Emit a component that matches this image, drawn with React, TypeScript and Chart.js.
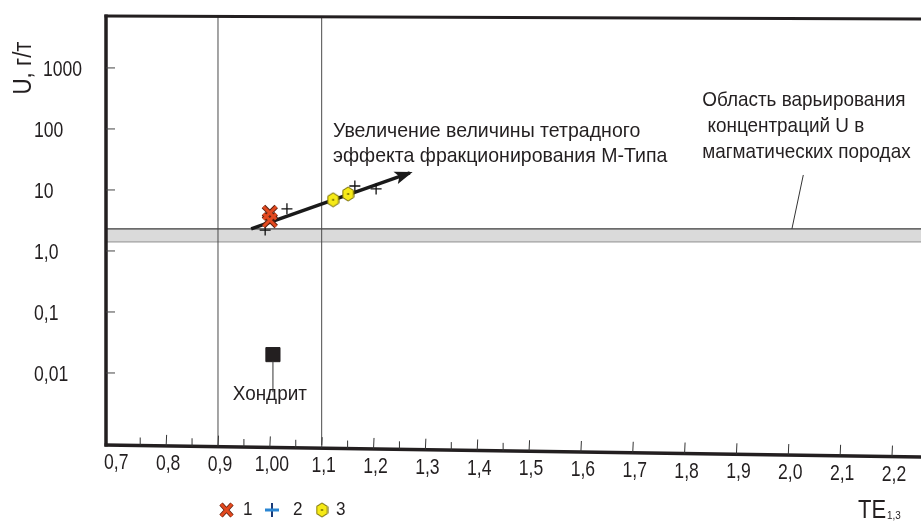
import React, { useEffect, useRef } from "react";
import { Chart, registerables } from "chart.js";

Chart.register(...registerables);

// ---- axis ranges ----
const X_MIN = 0.684;
const X_MAX = 2.256;
const Y_MIN = 0.00066;
const Y_MAX = 7100;

// ---- tick values / labels ----
const xTickValues = [0.7, 0.8, 0.9, 1.0, 1.1, 1.2, 1.3, 1.4, 1.5, 1.6, 1.7, 1.8, 1.9, 2.0, 2.1, 2.2];
const xTickLabels = ["0,7", "0,8", "0,9", "1,00", "1,1", "1,2", "1,3", "1,4", "1,5", "1,6", "1,7", "1,8", "1,9", "2,0", "2,1", "2,2"];
const xMinorTicks = [0.75, 0.85, 0.95, 1.05, 1.15, 1.25, 1.35, 1.45];
const yTickValues = [1000, 100, 10, 1, 0.1, 0.01];
const yTickLabels = ["1000", "100", "10", "1,0", "0,1", "0,01"];

// ---- series ----
const series1X = [1.0, 1.0];
const series1Y = [4.2, 3.2];
const series2X = [0.991, 1.033, 1.164, 1.205];
const series2Y = [2.2, 4.9, 11.6, 10.4];
const series3X = [1.122, 1.151];
const series3Y = [6.9, 8.6];
const chondriteX = [1.006];
const chondriteY = [0.02];
const arrowX = [0.964, 1.27];
const arrowY = [2.3, 19];
const bandTop = 2.3;
const bandBottom = 1.42;
const guideLinesX = [0.9, 1.1];

// ---- annotation anchors (data coords) ----
const arrowLabelLines = ["Увеличение величины тетрадного", "эффекта фракционирования М-Типа"];
const arrowLabelAt = { x: 1.122, y: 92 };
const bandLabelLines = ["Область варьирования", " концентраций U в", "магматических породах"];
const bandLabelAt = { x: 1.834, y: 300 };
const bandLeader = [{ x: 2.029, y: 17.6 }, { x: 2.007, y: bandTop }];
const chondriteLabel = "Хондрит";
const chondriteLabelAt = { x: 1.0, y: 0.0045 };

const legendItems = ["1", "2", "3"];
const yTitle = "U, г/т";

const INK = "#231f20";
const FONT = '"Liberation Sans", Arial, sans-serif';

const pts = (xs: number[], ys: number[]) => xs.map((x, i) => ({ x, y: ys[i] }));

function makeHex(): HTMLCanvasElement {
  const c = document.createElement("canvas");
  c.width = 13;
  c.height = 16;
  const g = c.getContext("2d")!;
  g.beginPath();
  g.moveTo(6.5, 1);
  g.lineTo(12, 4.5);
  g.lineTo(12, 11.5);
  g.lineTo(6.5, 15);
  g.lineTo(1, 11.5);
  g.lineTo(1, 4.5);
  g.closePath();
  g.fillStyle = "#f6ea17";
  g.fill();
  g.strokeStyle = "#6b6100";
  g.lineWidth = 1;
  g.stroke();
  g.beginPath();
  g.arc(6.5, 8, 1, 0, Math.PI * 2);
  g.fillStyle = "#5a5200";
  g.fill();
  return c;
}

function txt(
  ctx: CanvasRenderingContext2D,
  s: string,
  x: number,
  y: number,
  size: number,
  align: CanvasTextAlign = "left",
  sx = 0.9,
  rot = 0
) {
  ctx.save();
  ctx.font = `${size}px ${FONT}`;
  ctx.fillStyle = INK;
  ctx.textBaseline = "middle";
  ctx.textAlign = align;
  ctx.translate(x, y);
  if (rot) ctx.rotate(rot);
  ctx.scale(sx, 1);
  ctx.fillText(s, 0, 0);
  ctx.restore();
}

function line(ctx: CanvasRenderingContext2D, x1: number, y1: number, x2: number, y2: number, w: number, color = INK) {
  ctx.save();
  ctx.strokeStyle = color;
  ctx.lineWidth = w;
  ctx.beginPath();
  ctx.moveTo(x1, y1);
  ctx.lineTo(x2, y2);
  ctx.stroke();
  ctx.restore();
}

export default function App() {
  const ref = useRef<HTMLCanvasElement>(null);

  useEffect(() => {
    const canvas = ref.current!;
    const hex = makeHex();

    const overlay = {
      id: "overlay",
      afterDatasetsDraw(chart: any) {
        const ctx: CanvasRenderingContext2D = chart.ctx;
        const meta = chart.getDatasetMeta(4);
        const p0 = meta.data[0];
        const p1 = meta.data[meta.data.length - 1];
        const a = Math.atan2(p1.y - p0.y, p1.x - p0.x);
        const L = 15;
        const W = 6.5;
        ctx.save();
        ctx.fillStyle = "#1a1a1a";
        ctx.beginPath();
        ctx.moveTo(p1.x + Math.cos(a) * 3, p1.y + Math.sin(a) * 3);
        ctx.lineTo(p1.x - Math.cos(a) * L - Math.sin(a) * W, p1.y - Math.sin(a) * L + Math.cos(a) * W);
        ctx.lineTo(p1.x - Math.cos(a) * (L - 4), p1.y - Math.sin(a) * (L - 4));
        ctx.lineTo(p1.x - Math.cos(a) * L + Math.sin(a) * W, p1.y - Math.sin(a) * L - Math.cos(a) * W);
        ctx.closePath();
        ctx.fill();
        ctx.restore();
      },
      afterDraw(chart: any) {
        const ctx: CanvasRenderingContext2D = chart.ctx;
        const ca = chart.chartArea;
        const xs = chart.scales.x;
        const ys = chart.scales.y;
        const slope = 12 / (ca.right - ca.left);
        const axisY = (px: number) => ca.bottom + (px - ca.left) * slope;

        // frame
        line(ctx, ca.left, ca.top - 1.5, ca.left, ca.bottom + 1.5, 3.5);
        line(ctx, ca.left - 1.5, ca.top, ca.right, ca.top + 3, 3);
        line(ctx, ca.left - 1.5, axisY(ca.left), ca.right, axisY(ca.right), 3.5);

        // y ticks + labels
        yTickValues.forEach((v, i) => {
          const py = ys.getPixelForValue(v);
          line(ctx, ca.left, py, ca.left + 9, py, 1, "#444");
          const indent = i === 0 ? 9 : 0;
          txt(ctx, yTickLabels[i], 34 + indent, py + 2, 22, "left", 0.8);
        });

        // x ticks + labels
        xTickValues.forEach((v, i) => {
          const px = xs.getPixelForValue(v);
          const ay = axisY(px);
          if (i > 0) line(ctx, px, ay, px + 0.5, ay - 11, 1, "#333");
          txt(ctx, xTickLabels[i], px + 2, ay + 18, 22, "center", 0.8);
        });
        xMinorTicks.forEach((v) => {
          const px = xs.getPixelForValue(v);
          const ay = axisY(px);
          line(ctx, px, ay, px, ay - 8, 1, "#333");
        });

        // y title
        txt(ctx, yTitle, 24, 68, 26, "center", 0.86, -Math.PI / 2);

        // arrow label
        const ax = xs.getPixelForValue(arrowLabelAt.x);
        const ay0 = ys.getPixelForValue(arrowLabelAt.y);
        arrowLabelLines.forEach((s, i) => txt(ctx, s, ax, ay0 + i * 25, 21, "left", 0.93));

        // band label + leader
        const bx = xs.getPixelForValue(bandLabelAt.x);
        const by0 = ys.getPixelForValue(bandLabelAt.y);
        bandLabelLines.forEach((s, i) => txt(ctx, s, bx, by0 + i * 26, 21, "left", 0.9));
        line(
          ctx,
          xs.getPixelForValue(bandLeader[0].x),
          ys.getPixelForValue(bandLeader[0].y),
          xs.getPixelForValue(bandLeader[1].x),
          ys.getPixelForValue(bandLeader[1].y),
          1,
          "#333"
        );

        // chondrite label + leader
        const cx = xs.getPixelForValue(chondriteLabelAt.x);
        const cy = ys.getPixelForValue(chondriteLabelAt.y);
        const sqx = xs.getPixelForValue(chondriteX[0]);
        const sqy = ys.getPixelForValue(chondriteY[0]);
        line(ctx, sqx, sqy + 6, sqx, cy - 2, 1, "#333");
        txt(ctx, chondriteLabel, cx, cy, 21, "center", 0.9);

        // legend
        const ly = 510;
        ctx.save();
        ctx.strokeStyle = "#5b2010";
        ctx.lineWidth = 4.5;
        ctx.beginPath();
        ctx.moveTo(221, 504); ctx.lineTo(232, 516);
        ctx.moveTo(232, 504); ctx.lineTo(221, 516);
        ctx.stroke();
        ctx.strokeStyle = "#e2491f";
        ctx.lineWidth = 3;
        ctx.beginPath();
        ctx.moveTo(221, 504); ctx.lineTo(232, 516);
        ctx.moveTo(232, 504); ctx.lineTo(221, 516);
        ctx.stroke();
        ctx.restore();
        txt(ctx, legendItems[0], 243, ly, 19, "left", 0.9);
        line(ctx, 272, 503, 272, 517, 2, "#1a3a78");
        line(ctx, 265, 510, 279, 510, 3, "#2b86d3");
        txt(ctx, legendItems[1], 293, ly, 19, "left", 0.9);
        ctx.drawImage(hex, 322 - 6.5, ly - 8);
        txt(ctx, legendItems[2], 336, ly, 19, "left", 0.9);

        // x title
        txt(ctx, "TE", 858, 511, 25, "left", 0.88);
        txt(ctx, "1,3", 887, 516, 11, "left", 0.9);
      },
    };

    const chart = new Chart(canvas, {
      type: "scatter",
      data: {
        datasets: [
          {
            label: "band-top",
            data: [{ x: X_MIN, y: bandTop }, { x: X_MAX, y: bandTop }],
            showLine: true,
            pointRadius: 0,
            borderColor: "#3a3a3a",
            borderWidth: 1.2,
            backgroundColor: "#dadada",
            fill: "+1",
            order: 10,
          },
          {
            label: "band-bottom",
            data: [{ x: X_MIN, y: bandBottom }, { x: X_MAX, y: bandBottom }],
            showLine: true,
            pointRadius: 0,
            borderColor: "#3a3a3a",
            borderWidth: 1.2,
            fill: false,
            order: 10,
          },
          {
            label: "guide-1",
            data: [{ x: guideLinesX[0], y: Y_MIN }, { x: guideLinesX[0], y: Y_MAX }],
            showLine: true,
            pointRadius: 0,
            borderColor: "#4a4a4a",
            borderWidth: 1,
            order: 9,
          },
          {
            label: "guide-2",
            data: [{ x: guideLinesX[1], y: Y_MIN }, { x: guideLinesX[1], y: Y_MAX }],
            showLine: true,
            pointRadius: 0,
            borderColor: "#4a4a4a",
            borderWidth: 1,
            order: 9,
          },
          {
            label: "arrow",
            data: pts(arrowX, arrowY),
            showLine: true,
            pointRadius: 0,
            borderColor: "#1a1a1a",
            borderWidth: 3.5,
            order: 5,
          },
          {
            label: "2",
            data: pts(series2X, series2Y),
            pointStyle: "cross",
            pointRadius: 5.5,
            borderColor: "#111",
            borderWidth: 1.3,
            order: 4,
          },
          {
            label: "1-outline",
            data: pts(series1X, series1Y),
            pointStyle: "crossRot",
            pointRadius: 9,
            borderColor: "#5b2010",
            borderWidth: 5,
            order: 3,
          },
          {
            label: "1",
            data: pts(series1X, series1Y),
            pointStyle: "crossRot",
            pointRadius: 9,
            borderColor: "#e2491f",
            borderWidth: 3,
            order: 2,
          },
          {
            label: "3",
            data: pts(series3X, series3Y),
            pointStyle: hex as any,
            pointRadius: 7,
            order: 1,
          },
          {
            label: "Хондрит",
            data: pts(chondriteX, chondriteY),
            pointStyle: "rect",
            pointRadius: 10,
            backgroundColor: INK,
            borderColor: INK,
            borderWidth: 1,
            order: 1,
          },
        ],
      },
      options: {
        responsive: false,
        animation: false,
        devicePixelRatio: 1,
        events: [],
        layout: { autoPadding: false, padding: { left: 106, top: 16, right: 0, bottom: 77 } },
        plugins: { legend: { display: false }, tooltip: { enabled: false } },
        scales: {
          x: { type: "linear", min: X_MIN, max: X_MAX, display: false },
          y: { type: "logarithmic", min: Y_MIN, max: Y_MAX, display: false },
        },
      } as any,
      plugins: [overlay],
    });
    return () => chart.destroy();
  }, []);

  return (
    <div style={{ position: "absolute", left: 0, top: 0, width: 921, height: 522, background: "#fff" }}>
      <canvas ref={ref} width={921} height={522} style={{ display: "block" }} />
    </div>
  );
}
